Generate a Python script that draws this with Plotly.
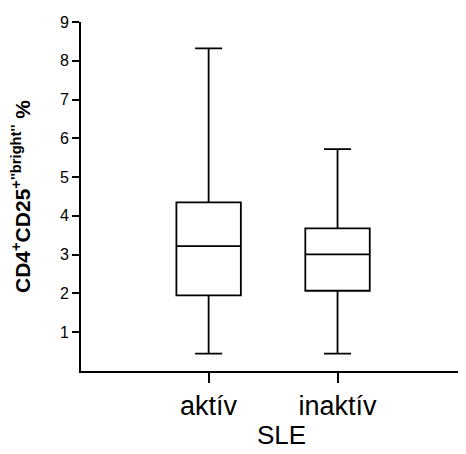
import plotly.graph_objects as go

categories = ["aktív", "inaktív"]
lower_whisker = [0.45, 0.45]
q1_values = [1.95, 2.07]
median_values = [3.22, 3.01]
q3_values = [4.35, 3.68]
upper_whisker = [8.32, 5.72]
y_ticks = [1, 2, 3, 4, 5, 6, 7, 8, 9]

fig = go.Figure()
fig.add_trace(go.Box(
    x=categories,
    q1=q1_values,
    median=median_values,
    q3=q3_values,
    lowerfence=lower_whisker,
    upperfence=upper_whisker,
    fillcolor="white",
    line=dict(color="black", width=1.8),
    width=0.5,
    whiskerwidth=0.42,
    boxpoints=False,
    showlegend=False,
    hoverinfo="skip",
))

font_family = "Liberation Sans, Arial, sans-serif"
fig.update_layout(
    width=458, height=446,
    margin=dict(l=73, r=6, t=7, b=83),
    plot_bgcolor="white", paper_bgcolor="white",
    font=dict(family=font_family, color="black"),
    xaxis=dict(
        type="category",
        range=[-0.99, 1.95],
        showline=True, linecolor="black", linewidth=1.8,
        ticks="outside", ticklen=10, tickwidth=1.8, tickcolor="black",
        tickfont=dict(size=27),
        showgrid=False, zeroline=False,
    ),
    yaxis=dict(
        range=[0, 9],
        tickvals=y_ticks,
        showline=True, linecolor="black", linewidth=1.8,
        ticks="outside", ticklen=7, tickwidth=1.5, tickcolor="black",
        tickfont=dict(size=16),
        ticklabeloverflow="allow",
        showgrid=False, zeroline=False,
        title=dict(
            text="<b>CD4<sup>+</sup>CD25<sup>+''bright''</sup> %</b>",
            font=dict(size=21), standoff=26,
        ),
    ),
    annotations=[dict(
        text="SLE", xref="paper", yref="paper", x=0.53, y=-0.182,
        xanchor="center", yanchor="middle", showarrow=False,
        font=dict(size=26),
    )],
)

fig.write_html("out.html")
